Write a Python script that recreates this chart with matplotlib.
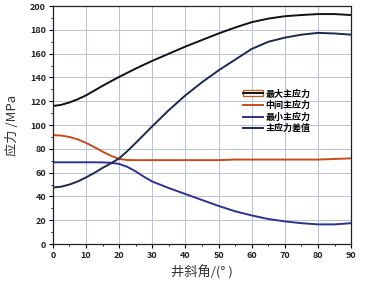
import matplotlib
matplotlib.use("Agg")
import matplotlib.pyplot as plt
from matplotlib.patches import Rectangle
from matplotlib.lines import Line2D
from matplotlib.legend_handler import HandlerTuple
from matplotlib.ticker import MultipleLocator

plt.rcParams['font.family'] = ['Noto Sans CJK SC', 'DejaVu Sans']

angle = [0, 2.5, 5, 7.5, 10, 12.5, 15, 17.5, 20, 22.5, 25, 27.5, 30, 35, 40, 45, 50, 55, 60, 65, 70, 75, 80, 85, 90]
sigma_max = [116, 117, 119, 121.7, 125, 129, 133, 136.8, 140.5, 144, 147.5, 150.8, 154, 160, 166, 171.5, 177, 182, 186.5, 189.5, 191.5, 192.5, 193.3, 193.3, 192.5]
sigma_mid = [91.5, 91.2, 90, 88, 85, 81.5, 77.6, 74.2, 71.5, 70.6, 70.5, 70.5, 70.5, 70.5, 70.5, 70.5, 70.5, 71, 71, 71, 71, 71, 71, 71.5, 72]
sigma_min = [68.7, 68.7, 68.7, 68.7, 68.7, 68.7, 68.6, 68.3, 67.3, 64.8, 61, 56.5, 52.5, 47, 42, 37, 32, 27.5, 24, 21, 19, 17.5, 16.5, 16.5, 17.5]
sigma_diff = [47.5, 48.2, 50, 52.6, 56, 59.8, 64, 67.8, 72, 78.2, 85, 92, 99, 112.6, 125, 136, 146, 155, 164, 170, 173.5, 176, 177.5, 177, 176]

labels = ['最大主应力', '中间主应力', '最小主应力', '主应力差值']
colors = ['#111111', '#c84b1c', '#2e318f', '#1c2950']

fig = plt.figure(figsize=(3.65, 2.91), dpi=100)
ax = fig.add_axes([0.145, 0.1615, 0.817, 0.8175])

series = [sigma_max, sigma_mid, sigma_min, sigma_diff]
for s, c in zip(series, colors):
    ax.plot(angle, s, color=c, lw=1.4, solid_joinstyle='round')

ax.set_xlim(0, 90)
ax.set_ylim(0, 200)
ax.xaxis.set_major_locator(MultipleLocator(10))
ax.xaxis.set_minor_locator(MultipleLocator(5))
ax.yaxis.set_major_locator(MultipleLocator(20))
ax.yaxis.set_minor_locator(MultipleLocator(10))
ax.grid(True, which='major', color='#b9c0d6', lw=0.7)
ax.tick_params(which='major', direction='out', length=3, width=0.8, labelsize=6.5, pad=2)
ax.tick_params(which='minor', direction='out', length=1.5, width=0.6)
for lab in ax.get_xticklabels() + ax.get_yticklabels():
    lab.set_fontweight('bold')
    lab.set_color('#222222')
for sp in ax.spines.values():
    sp.set_linewidth(0.9)
    sp.set_color('#222222')

ax.set_xlabel('井斜角/(° )', fontsize=9.5, color='#333333', labelpad=4)
ax.set_ylabel('应力 /MPa', fontsize=9.5, color='#333333', labelpad=8)

h1 = (Rectangle((0, 0), 1, 1, facecolor='white', edgecolor='#b5652a', lw=1.0),
      Line2D([], [], color=colors[0], lw=1.4))
handles = [h1] + [Line2D([], [], color=c, lw=1.4) for c in colors[1:]]
ax.legend(handles, labels, loc='upper left', bbox_to_anchor=(0.61, 0.685),
          frameon=False, prop={'size': 6.5, 'weight': 'bold'},
          handlelength=2.2, handleheight=0.6, handletextpad=0.3, labelspacing=0.25,
          handler_map={tuple: HandlerTuple(ndivide=1)})

fig.savefig('out.png', dpi=100, facecolor='white')
